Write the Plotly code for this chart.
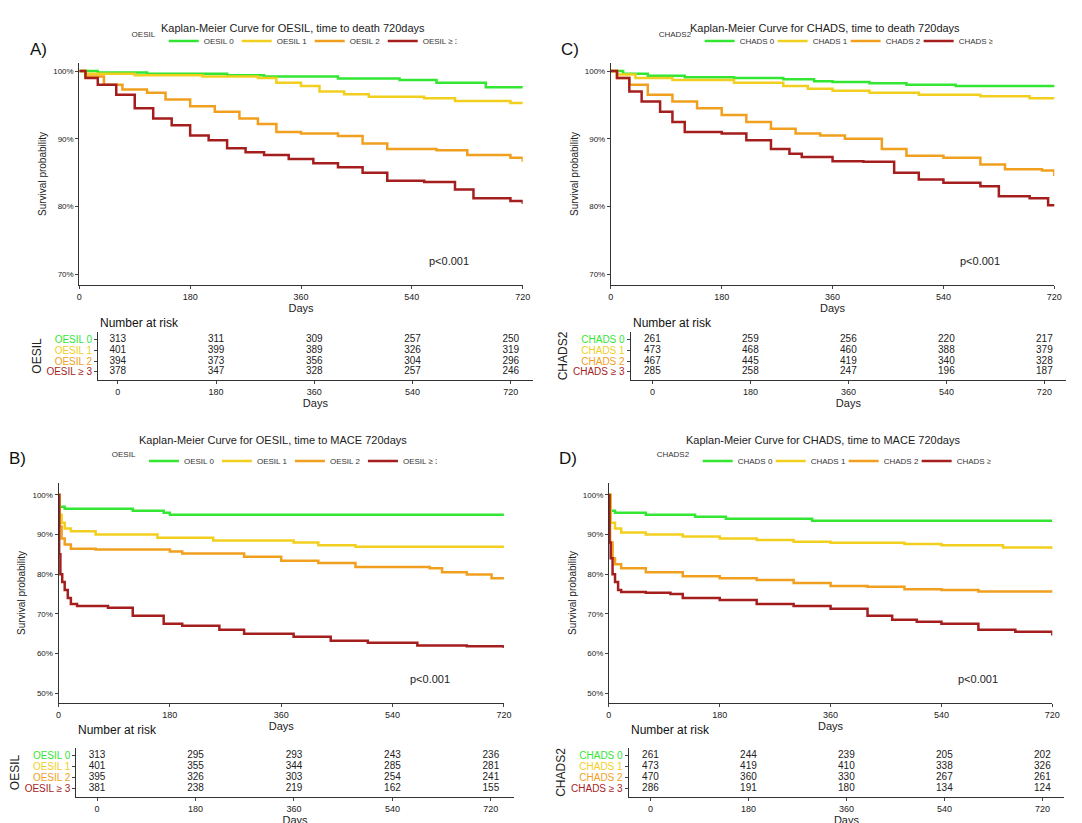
import plotly.graph_objects as go

W, H = 1082, 823
FONT = "Liberation Sans"
COLORS = ["#33e633", "#f2cf1f", "#f0a01e", "#a51e1e"]

# ---- survival curves (days, survival %) ----
A_t = [[0, 30, 110, 240, 300, 420, 520, 580, 660, 720],
       [0, 10, 90, 200, 290, 320, 360, 390, 430, 470, 560, 610, 700, 720],
       [0, 10, 40, 70, 110, 140, 180, 220, 260, 290, 320, 360, 420, 460, 500, 580, 630, 700, 720],
       [0, 10, 30, 60, 90, 120, 150, 180, 210, 240, 270, 300, 340, 380, 420, 460, 500, 560, 610, 640, 700, 720]]
A_s = [[100, 99.8, 99.6, 99.4, 99.2, 98.9, 98.7, 98.3, 97.6, 97.5],
       [100, 99.6, 99.4, 99.2, 99.0, 98.3, 97.8, 97.0, 96.6, 96.2, 96.0, 95.6, 95.3, 95.2],
       [100, 99.2, 98.0, 97.3, 96.8, 95.8, 94.8, 94.0, 93.0, 92.2, 91.0, 90.8, 90.4, 89.3, 88.5, 88.3, 87.6, 87.2, 86.6],
       [100, 99.0, 98.0, 96.5, 94.5, 93.0, 92.0, 90.5, 89.8, 88.6, 88.0, 87.6, 87.0, 86.4, 85.8, 85.0, 83.8, 83.6, 82.5, 81.2, 80.8, 80.4]]

B_t = [[0, 2, 10, 120, 170, 180, 720],
       [0, 2, 5, 10, 20, 60, 160, 250, 380, 420, 480, 720],
       [0, 2, 5, 10, 20, 60, 180, 200, 300, 360, 420, 480, 600, 620, 660, 700, 720],
       [0, 1, 3, 6, 10, 15, 20, 30, 80, 120, 170, 200, 260, 300, 380, 440, 500, 580, 660, 720]]
B_s = [[100, 97, 96.5, 96.0, 95.5, 95.0, 95.0],
       [100, 95, 93, 91.5, 90.8, 90.0, 89.2, 88.5, 88.0, 87.3, 86.9, 86.9],
       [100, 92, 89, 87.5, 86.4, 86.2, 85.7, 85.2, 84.4, 83.4, 82.8, 81.8, 81.5, 80.5, 79.9, 79.0, 78.8],
       [100, 85, 80, 78, 76, 74, 72.5, 72, 71.5, 69.5, 67.5, 67, 66, 65, 64.2, 63.2, 62.7, 62, 61.8, 61.4]]

C_t = [[0, 20, 60, 120, 200, 280, 330, 360, 420, 480, 560, 720],
       [0, 10, 40, 100, 200, 280, 320, 360, 420, 500, 600, 680, 720],
       [0, 10, 30, 60, 100, 140, 180, 220, 260, 300, 340, 380, 440, 480, 540, 600, 640, 700, 720],
       [0, 10, 30, 50, 80, 100, 120, 180, 220, 260, 290, 310, 360, 410, 460, 500, 540, 600, 630, 680, 710, 720]]
C_s = [[100, 99.6, 99.3, 99.1, 99.0, 98.8, 98.5, 98.4, 98.2, 98.0, 97.8, 97.6],
       [100, 99.5, 99.0, 98.7, 98.3, 97.8, 97.4, 97.1, 96.8, 96.5, 96.3, 96.0, 95.9],
       [100, 99, 98, 96.5, 95.5, 94.5, 93.5, 92.5, 91.5, 90.8, 90.5, 90.0, 88.5, 87.5, 87.2, 86.2, 85.5, 85.3, 84.5],
       [100, 99, 97, 95.5, 94, 92.5, 91, 90.8, 89.8, 88.5, 87.8, 87.3, 86.7, 86.6, 85, 84, 83.5, 83.0, 81.5, 81.2, 80.2, 80.0]]

D_t = [[0, 3, 10, 60, 140, 190, 330, 720],
       [0, 3, 10, 20, 60, 120, 180, 240, 300, 360, 480, 540, 640, 720],
       [0, 2, 6, 10, 20, 60, 120, 180, 240, 300, 360, 420, 480, 540, 600, 720],
       [0, 1, 3, 6, 10, 15, 20, 60, 100, 120, 180, 240, 300, 360, 420, 460, 500, 540, 600, 660, 720]]
D_s = [[100, 96, 95.5, 95.0, 94.5, 94.0, 93.5, 93.5],
       [100, 93, 91.5, 90.5, 90, 89.5, 89, 88.6, 88.2, 87.9, 87.6, 87.3, 86.7, 86.3],
       [100, 88, 84, 82.5, 81.5, 80.5, 79.5, 79, 78.5, 77.8, 77.0, 76.8, 76.2, 76.0, 75.6, 75.4],
       [100, 88, 84, 80, 78, 76, 75.5, 75.3, 75, 74, 73.5, 72.5, 72, 71.3, 69.5, 68.5, 68.0, 67.5, 66, 65.5, 64.5]]

# ---- number at risk ----
risk_days = [0, 180, 360, 540, 720]
A_risk = [[313, 311, 309, 257, 250], [401, 399, 389, 326, 319], [394, 373, 356, 304, 296], [378, 347, 328, 257, 246]]
B_risk = [[313, 295, 293, 243, 236], [401, 355, 344, 285, 281], [395, 326, 303, 254, 241], [381, 238, 219, 162, 155]]
C_risk = [[261, 259, 256, 220, 217], [473, 468, 460, 388, 379], [467, 445, 419, 340, 328], [285, 258, 247, 196, 187]]
D_risk = [[261, 244, 239, 205, 202], [473, 419, 410, 338, 326], [470, 360, 330, 267, 261], [286, 191, 180, 134, 124]]

OESIL_groups = ["OESIL 0", "OESIL 1", "OESIL 2", "OESIL \u2265 3"]
CHADS_groups = ["CHADS 0", "CHADS 1", "CHADS 2", "CHADS \u2265 3"]

panels = [
    dict(letter="A)", title="Kaplan-Meier Curve for OESIL, time to death 720days", leg="OESIL",
         groups=OESIL_groups, t=A_t, s=A_s, risk=A_risk, px=(69, 517, 55, 277), yr=(68.4, 101.2),
         yt=[70, 80, 90, 100], tpx=(88, 527, 324, 372), txr=(-36, 760), tytitle="OESIL", cx=285, ty0=0),
    dict(letter="B)", title="Kaplan-Meier Curve for OESIL, time to MACE 720days", leg="OESIL",
         groups=OESIL_groups, t=B_t, s=B_s, risk=B_risk, px=(48, 498, 475, 695), yr=(47.5, 103),
         yt=[50, 60, 70, 80, 90, 100], tpx=(66, 508, 740, 789), txr=(-38, 762), tytitle="OESIL", cx=265, ty0=420),
    dict(letter="C)", title="Kaplan-Meier Curve for CHADS, time to death 720days", leg="CHADS2",
         groups=CHADS_groups, t=C_t, s=C_s, risk=C_risk, px=(606, 1054, 55, 277), yr=(68.4, 101.2),
         yt=[70, 80, 90, 100], tpx=(626, 1066, 324, 372), txr=(-40, 760), tytitle="CHADS2", cx=822, ty0=0),
    dict(letter="D)", title="Kaplan-Meier Curve for CHADS, time to MACE 720days", leg="CHADS2",
         groups=CHADS_groups, t=D_t, s=D_s, risk=D_risk, px=(604, 1052, 475, 695), yr=(47.5, 103),
         yt=[50, 60, 70, 80, 90, 100], tpx=(624, 1064, 740, 789), txr=(-40, 760), tytitle="CHADS2", cx=820, ty0=420),
]


def fx(px):
    return px / W


def fy(py):
    return 1 - py / H


fig = go.Figure()
layout = {}
annotations = []
tick_font = dict(family=FONT, size=9, color="#222")

for i, p in enumerate(panels):
    kp = 2 * i + 1   # curve axes
    kt = 2 * i + 2   # table axes
    xa, ya = f"x{kp}", f"y{kp}"
    xt, yt = f"x{kt}", f"y{kt}"
    lg = "legend" if i == 0 else f"legend{i + 1}"

    for g, col, t, s in zip(p["groups"], COLORS, p["t"], p["s"]):
        fig.add_trace(go.Scatter(x=t, y=s, mode="lines", line=dict(color=col, width=2.5, shape="hv"),
                                 name=g, xaxis=xa, yaxis=ya, legend=lg))
    # risk table
    n = len(p["groups"])
    for r, (g, col, row) in enumerate(zip(p["groups"], COLORS, p["risk"])):
        fig.add_trace(go.Scatter(x=risk_days, y=[r] * len(row), mode="text", text=[str(v) for v in row],
                                 textfont=dict(family=FONT, size=10, color="#222"),
                                 showlegend=False, xaxis=xt, yaxis=yt))

    x0, x1, y0, y1 = p["px"]
    layout[f"xaxis{kp}"] = dict(domain=[fx(x0), fx(x1)], range=[0, 720], anchor=ya,
                                tickvals=risk_days, showline=True, linecolor="#333", ticks="outside",
                                ticklen=3, showgrid=False, zeroline=False, tickfont=tick_font,
                                title=dict(text="Days", font=dict(family=FONT, size=11, color="#222"), standoff=0))
    layout[f"yaxis{kp}"] = dict(domain=[fy(y1), fy(y0)], range=list(p["yr"]), anchor=xa,
                                tickvals=p["yt"], ticktext=[f"{v}%" for v in p["yt"]],
                                showline=True, linecolor="#333", ticks="outside", ticklen=3,
                                showgrid=False, zeroline=False, tickfont=dict(family=FONT, size=8, color="#222"),
                                title=dict(text="Survival probability", font=dict(family=FONT, size=10, color="#222"),
                                           standoff=4))
    tx0, tx1, ty0, ty1 = p["tpx"]
    layout[f"xaxis{kt}"] = dict(domain=[fx(tx0), fx(tx1)], range=list(p["txr"]), anchor=yt,
                                tickvals=risk_days, showline=True, linecolor="#333", ticks="outside",
                                ticklen=3, showgrid=False, zeroline=False, tickfont=tick_font,
                                title=dict(text="Days", font=dict(family=FONT, size=11, color="#222"), standoff=0))
    layout[f"yaxis{kt}"] = dict(domain=[fy(ty1), fy(ty0)], range=[3.73, -0.64], anchor=xt,
                                tickvals=list(range(n)),
                                ticktext=[f"<span style='color:{c}'>{g}</span>" for g, c in zip(p["groups"], COLORS)],
                                showline=True, linecolor="#333", ticks="outside", ticklen=3,
                                showgrid=False, zeroline=False, tickfont=dict(family=FONT, size=10),
                                title=dict(text=p["tytitle"], font=dict(family=FONT, size=12, color="#222"),
                                           standoff=2))
    layout[lg] = dict(orientation="h", x=fx(p["cx"]), xanchor="center", y=fy(p["ty0"] + 33), yanchor="middle",
                      font=dict(family=FONT, size=8, color="#333"), bgcolor="rgba(0,0,0,0)",
                      title=dict(text=p["leg"], side="left", font=dict(family=FONT, size=8, color="#333")),
                      entrywidth=28, entrywidthmode="pixels", tracegroupgap=0)

    annotations.append(dict(text=p["title"], x=fx(p["cx"]), y=fy(p["ty0"] + 12), xref="paper", yref="paper",
                            xanchor="center", showarrow=False, font=dict(family=FONT, size=11, color="#222")))
    annotations.append(dict(text=p["letter"], x=fx(x0 - 52), y=fy(p["ty0"] + 30),
                            xref="paper", yref="paper", xanchor="left", showarrow=False,
                            font=dict(family=FONT, size=17, color="#111")))
    annotations.append(dict(text="Number at risk", x=fx(tx0), y=fy(ty0 - 9), xref="paper", yref="paper",
                            xanchor="left", showarrow=False, font=dict(family=FONT, size=12, color="#111")))
    annotations.append(dict(text="p<0.001", x=600, y=p["yr"][0] + (p["yr"][1] - p["yr"][0]) * 0.11,
                            xref=xa, yref=ya, showarrow=False, font=dict(family=FONT, size=11, color="#222")))

fig.update_layout(width=W, height=H, margin=dict(l=0, r=0, t=0, b=0), plot_bgcolor="white",
                  paper_bgcolor="white", annotations=annotations, **layout)
fig.write_html("out.html")
